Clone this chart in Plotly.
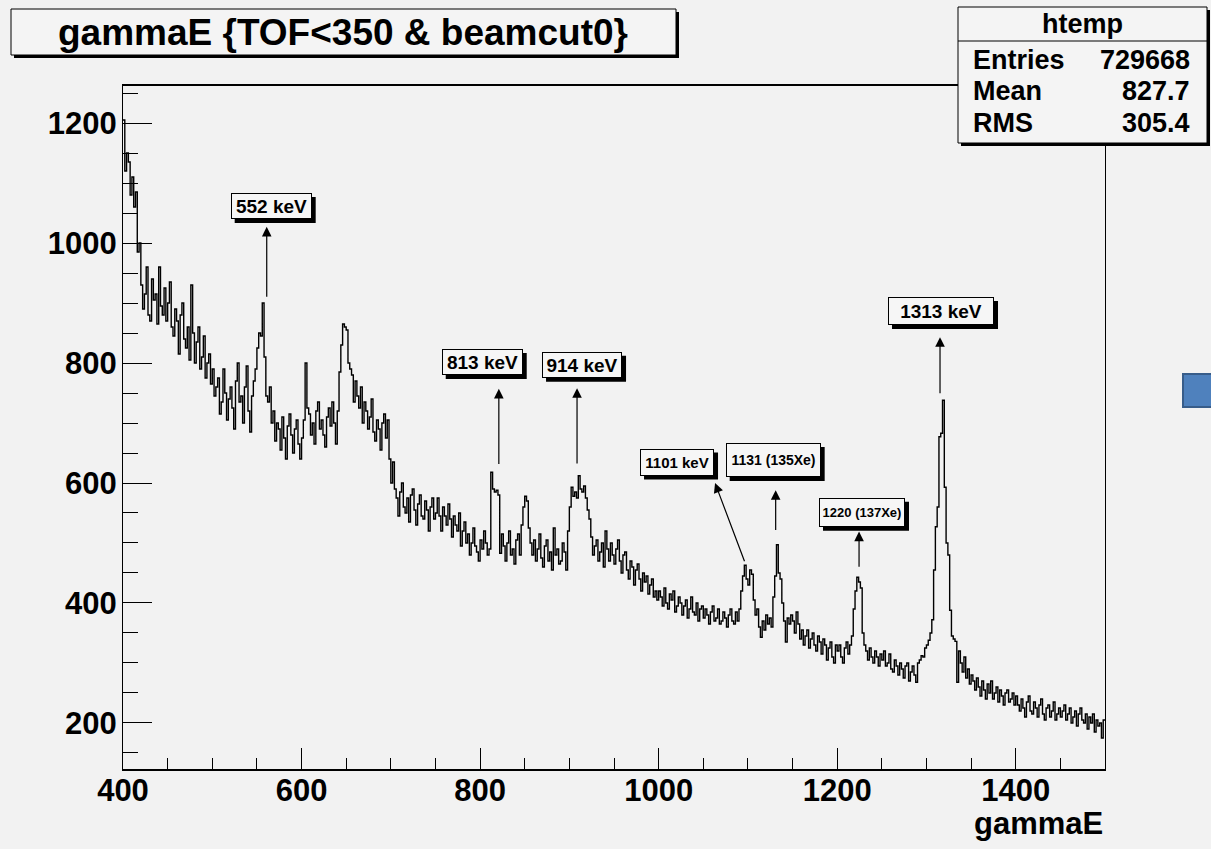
import numpy as np
import plotly.graph_objects as go

# ---------------- data (counts per 2 keV bin) ----------------
e_min = 400
bin_width = 2

counts_400_500 = [1205, 1120, 1150, 1135, 1080, 1110, 1060, 1085, 985, 1000, 930, 890, 915, 960, 880, 870, 940, 905, 915, 865, 960, 895, 880, 925, 870,
                  900, 935, 860, 845, 890, 870, 815, 880, 900, 840, 825, 860, 805, 930, 850, 800, 835, 860, 790, 810, 845, 775, 800, 815, 765]
counts_500_600 = [790, 745, 760, 775, 715, 735, 790, 750, 705, 740, 760, 725, 690, 770, 800, 735, 745, 700, 760, 795, 720, 685, 745, 770, 790,
                  825, 850, 845, 900, 810, 745, 735, 760, 700, 720, 670, 700, 690, 655, 710, 675, 640, 695, 715, 680, 650, 690, 705, 665, 640]
counts_600_700 = [675, 705, 800, 725, 715, 680, 700, 665, 720, 735, 690, 705, 680, 660, 710, 725, 695, 735, 700, 665, 720, 785, 830, 865, 860,
                  855, 800, 790, 780, 735, 770, 745, 725, 760, 700, 735, 720, 690, 710, 740, 685, 670, 705, 690, 655, 700, 715, 675, 705, 640]
counts_700_800 = [600, 635, 590, 575, 545, 585, 600, 560, 550, 575, 535, 580, 590, 555, 530, 565, 580, 545, 540, 570, 555, 520, 560, 575, 540,
                  550, 575, 545, 520, 560, 545, 530, 565, 540, 510, 545, 530, 520, 550, 495, 520, 535, 500, 515, 480, 500, 525, 495, 485, 470]
counts_800_900 = [505, 490, 520, 500, 480, 490, 618, 590, 585, 588, 580, 483, 515, 495, 470, 500, 520, 480, 490, 465, 505, 515, 480, 530, 560,
                  578, 570, 525, 500, 480, 505, 470, 490, 515, 475, 460, 495, 505, 470, 485, 455, 525, 480, 490, 465, 470, 500, 485, 455, 520]
counts_900_1000 = [560, 593, 578, 585, 575, 612, 590, 585, 595, 575, 555, 540, 510, 480, 495, 505, 470, 485, 500, 460, 520, 490, 470, 500, 480,
                   465, 490, 505, 470, 450, 480, 485, 455, 440, 470, 460, 430, 455, 465, 440, 420, 450, 435, 445, 415, 430, 440, 410, 420, 405]
counts_1000_1100 = [420, 410, 395, 425, 400, 390, 415, 405, 420, 385, 395, 410, 400, 380, 395, 405, 375, 390, 410, 385, 380, 400, 370, 390, 395,
                    375, 390, 380, 365, 385, 395, 370, 375, 390, 365, 370, 385, 375, 360, 380, 390, 370, 365, 385, 370, 390, 420, 445, 463, 440]
counts_1100_1200 = [430, 455, 448, 405, 380, 390, 360, 343, 370, 355, 380, 365, 375, 360, 410, 445, 497, 450, 440, 400, 370, 335, 375, 365, 380,
                    370, 350, 385, 365, 340, 355, 330, 345, 355, 325, 340, 350, 330, 320, 345, 335, 315, 340, 330, 305, 325, 335, 310, 300, 330]
counts_1200_1300 = [320, 330, 310, 300, 325, 335, 315, 330, 345, 390, 420, 443, 435, 425, 350, 330, 320, 305, 325, 310, 300, 320, 310, 295, 315,
                    305, 320, 295, 300, 315, 290, 285, 305, 295, 280, 300, 290, 275, 295, 300, 270, 285, 295, 280, 268, 300, 305, 312, 310, 325]
counts_1300_1400 = [330, 338, 350, 372, 455, 527, 560, 677, 683, 738, 593, 500, 480, 388, 345, 340, 336, 268, 320, 300, 285, 310, 275, 290, 265,
                    280, 270, 255, 275, 260, 245, 270, 255, 240, 265, 250, 270, 240, 250, 260, 235, 255, 245, 230, 250, 255, 235, 240, 250, 230]
counts_1400_1500 = [245, 230, 220, 240, 225, 210, 235, 245, 220, 215, 235, 225, 210, 230, 240, 215, 205, 225, 230, 210, 220, 235, 205, 215, 225,
                    210, 220, 230, 205, 215, 225, 200, 210, 220, 195, 215, 225, 205, 200, 215, 190, 210, 200, 215, 185, 205, 195, 200, 175, 205]

# peak labels: text, box centre (keV, counts), box size px, font size, arrow tail / tip (keV, counts)
peak_texts = ["552 keV", "813 keV", "914 keV", "1101 keV", "1131 (135Xe)", "1220 (137Xe)", "1313 keV"]
peak_box_x = [566, 802.4, 914.2, 1020.6, 1128.3, 1227.8, 1316.3]
peak_box_y = [1061.7, 801.7, 797.2, 635.0, 638.3, 551.3, 886.7]
peak_box_w = [81, 81, 80, 74, 95, 86, 106]
peak_box_h = [26, 26, 26, 27, 34, 29, 28]
peak_font = [19, 19, 19, 15, 14, 13, 19]
arrow_tail_x = [561, 821, 908.6, 1096.8, 1131.1, 1224.5, 1315.2]
arrow_tail_y = [908, 629, 630, 467, 519, 458, 747]
arrow_tip_x = [561, 821, 908.6, 1063.2, 1131.1, 1224.5, 1315.2]
arrow_tip_y = [1027, 757, 758, 600, 588, 519, 843]

stats_labels = ["Entries", "Mean", "RMS"]
stats_values = ["729668", "827.7", "305.4"]

# ---------------- build ----------------
counts = (counts_400_500 + counts_500_600 + counts_600_700 + counts_700_800 + counts_800_900 +
          counts_900_1000 + counts_1000_1100 + counts_1100_1200 + counts_1200_1300 +
          counts_1300_1400 + counts_1400_1500)
n = len(counts)
edges = e_min + bin_width * np.arange(n + 1)
ys = counts + [counts[-1]]

W, H = 1211, 849
L, R, T, B = 123, 106, 86, 80
PW, PH = W - L - R, H - T - B
X_RANGE = [400, 1500]
Y_RANGE = [123.3, 1261.7]
KX = PW / (X_RANGE[1] - X_RANGE[0])   # px per keV
KY = PH / (Y_RANGE[1] - Y_RANGE[0])   # px per count
BG = "#f2f2f2"
FONT = "Liberation Sans, Arial, Helvetica, sans-serif"


def pxx(x):
    return (x - L) / PW


def pxy(y):
    return (H - B - y) / PH


fig = go.Figure()
fig.add_trace(go.Scatter(x=edges, y=ys, mode="lines", line=dict(color="black", width=1.4, shape="hv"),
                         hoverinfo="skip", showlegend=False))

shapes = []
annotations = []

# title box with shadow
shapes.append(dict(type="rect", xref="paper", yref="paper", x0=pxx(14), x1=pxx(679), y0=pxy(12), y1=pxy(58),
                   fillcolor="black", line=dict(width=0), layer="above"))
shapes.append(dict(type="rect", xref="paper", yref="paper", x0=pxx(11), x1=pxx(676), y0=pxy(9), y1=pxy(55),
                   fillcolor="#f4f4f4", line=dict(color="black", width=1), layer="above"))
annotations.append(dict(xref="paper", yref="paper", x=pxx(343), y=pxy(32), text="gammaE {TOF<350 & beamcut0}",
                        showarrow=False, xanchor="center", yanchor="middle",
                        font=dict(family=FONT, size=37, color="black", weight="bold")))

# stats box
shapes.append(dict(type="rect", xref="paper", yref="paper", x0=pxx(961), x1=pxx(1210), y0=pxy(10), y1=pxy(146),
                   fillcolor="black", line=dict(width=0), layer="above"))
shapes.append(dict(type="rect", xref="paper", yref="paper", x0=pxx(958), x1=pxx(1207), y0=pxy(7), y1=pxy(143),
                   fillcolor="#f4f4f4", line=dict(color="black", width=1), layer="above"))
shapes.append(dict(type="line", xref="paper", yref="paper", x0=pxx(958), x1=pxx(1207), y0=pxy(41), y1=pxy(41),
                   line=dict(color="black", width=1), layer="above"))
annotations.append(dict(xref="paper", yref="paper", x=pxx(1082.5), y=pxy(24), text="htemp", showarrow=False,
                        xanchor="center", yanchor="middle",
                        font=dict(family=FONT, size=27, color="black", weight="bold")))
row_y = [60, 91, 123]
for lab, val, yy in zip(stats_labels, stats_values, row_y):
    annotations.append(dict(xref="paper", yref="paper", x=pxx(971), y=pxy(yy), text=lab, showarrow=False,
                            xanchor="left", yanchor="middle",
                            font=dict(family=FONT, size=27, color="black", weight="bold")))
    annotations.append(dict(xref="paper", yref="paper", x=pxx(1192), y=pxy(yy), text=val, showarrow=False,
                            xanchor="right", yanchor="middle",
                            font=dict(family=FONT, size=27, color="black", weight="bold")))

# blue square at the right edge
shapes.append(dict(type="rect", xref="paper", yref="paper", x0=pxx(1183), x1=pxx(1216), y0=pxy(374), y1=pxy(407),
                   fillcolor="#4f81bd", line=dict(color="#385d8a", width=2), layer="above"))

# axis title
annotations.append(dict(xref="paper", yref="paper", x=1.0, y=pxy(823), text="gammaE", showarrow=False,
                        xanchor="right", yanchor="middle",
                        font=dict(family=FONT, size=31, color="black", weight="bold")))

# peak labels (with drop shadows) and arrows
SH = 4  # shadow offset, px
for i in range(len(peak_texts)):
    hw = peak_box_w[i] / 2 / KX
    hh = peak_box_h[i] / 2 / KY
    shapes.append(dict(type="rect", xref="x", yref="y",
                       x0=peak_box_x[i] - hw + SH / KX, x1=peak_box_x[i] + hw + SH / KX,
                       y0=peak_box_y[i] - hh - SH / KY, y1=peak_box_y[i] + hh - SH / KY,
                       fillcolor="black", line=dict(width=0), layer="above"))
    annotations.append(dict(x=arrow_tip_x[i], y=arrow_tip_y[i], ax=arrow_tail_x[i], ay=arrow_tail_y[i],
                            axref="x", ayref="y", xref="x", yref="y", text="", showarrow=True,
                            arrowhead=2, arrowsize=1.6, arrowwidth=1.2, arrowcolor="black", standoff=0))
    annotations.append(dict(x=peak_box_x[i], y=peak_box_y[i], xref="x", yref="y", text=peak_texts[i],
                            showarrow=False, width=peak_box_w[i] - 2, height=peak_box_h[i] - 2,
                            bgcolor="#f6f6f6", bordercolor="black", borderwidth=1, borderpad=0,
                            font=dict(family=FONT, size=peak_font[i], color="black", weight="bold")))

tickfont = dict(family=FONT, size=31, color="black", weight="bold")
fig.update_layout(
    width=W, height=H,
    margin=dict(l=L, r=R, t=T, b=B, pad=0),
    paper_bgcolor=BG, plot_bgcolor=BG,
    showlegend=False,
    shapes=shapes, annotations=annotations,
    xaxis=dict(range=X_RANGE, tick0=400, dtick=200, ticks="inside", ticklen=21, tickwidth=1,
               tickcolor="black", showline=True, linecolor="black", linewidth=1.5, mirror=True,
               showgrid=False, zeroline=False, tickfont=tickfont, ticklabelstandoff=-7,
               minor=dict(dtick=50, tick0=400, ticks="inside", ticklen=11, tickwidth=1, tickcolor="black",
                          showgrid=False)),
    yaxis=dict(range=Y_RANGE, tick0=0, dtick=200, ticks="inside", ticklen=29, tickwidth=1,
               tickcolor="black", showline=True, linecolor="black", linewidth=1.2, mirror=True,
               showgrid=False, zeroline=False, tickfont=tickfont, ticklabelstandoff=-1,
               minor=dict(dtick=50, tick0=0, ticks="inside", ticklen=15, tickwidth=1, tickcolor="black",
                          showgrid=False)),
)

fig.write_html("out.html")
